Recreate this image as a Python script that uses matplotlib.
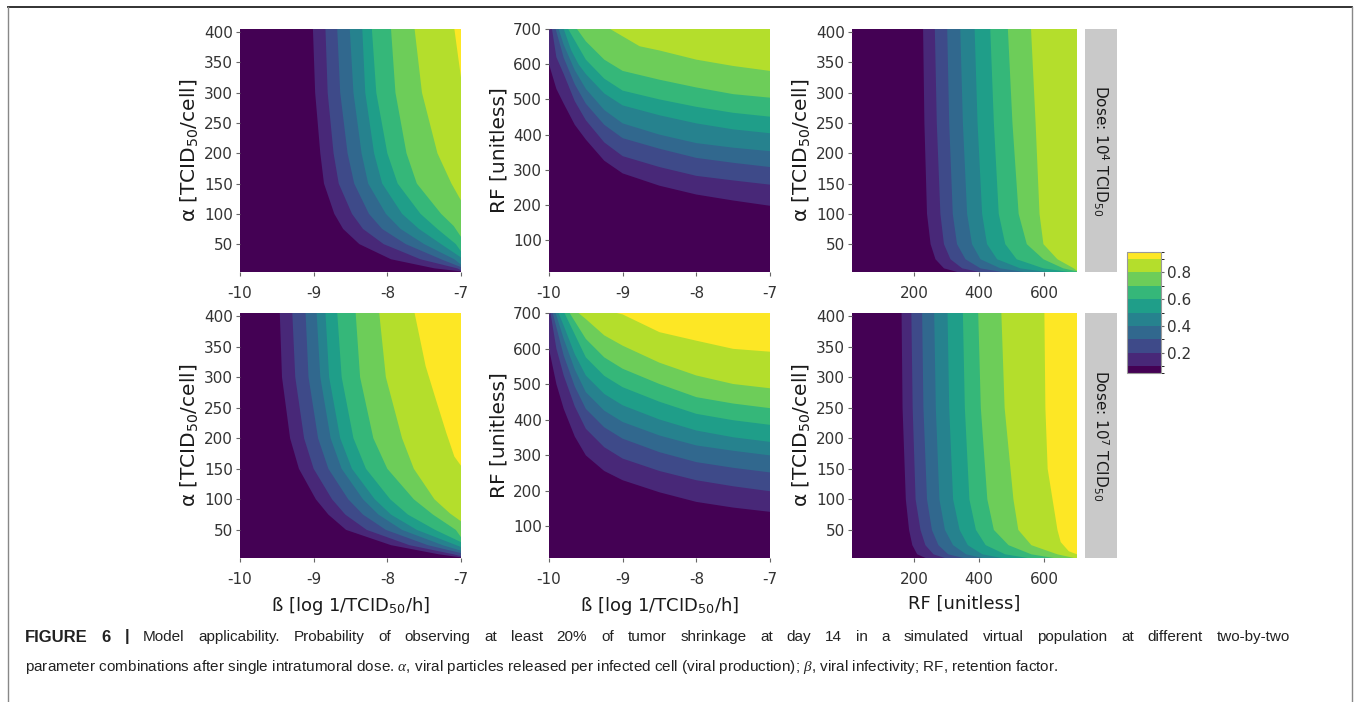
import numpy as np
import matplotlib
matplotlib.use("Agg")
import matplotlib.pyplot as plt
from matplotlib.colors import ListedColormap, BoundaryNorm
from matplotlib.cm import ScalarMappable
from matplotlib.patches import Rectangle
from matplotlib.lines import Line2D

plt.rcParams['font.family'] = ['DejaVu Sans']
plt.rcParams['axes.unicode_minus'] = False
plt.rcParams['mathtext.fontset'] = 'custom'
plt.rcParams['mathtext.rm'] = 'DejaVu Sans'
plt.rcParams['mathtext.bf'] = 'Liberation Sans:bold'
plt.rcParams['mathtext.it'] = 'Liberation Serif:italic'

# ── Data ───────────────────────────────────────────────────────────────────────
# probability bins of ">= 20% shrinkage" (0-0.1, 0.1-0.2, ... 0.9-1.0)
COLORS = ['#440154', '#482878', '#3E4A89', '#31688E', '#26828E',
          '#1F9E89', '#35B779', '#6DCD59', '#B4DE2C', '#FDE725']
CB_BOUNDS = [0.05, 0.1, 0.2, 0.3, 0.4, 0.5, 0.6, 0.7, 0.8, 0.9, 0.95]
CB_TICKS = [0.2, 0.4, 0.6, 0.8]

# Contour lines, one per level 0.1 .. 0.9.
# beta/alpha panels: (alpha values, beta where P crosses the level)
TL = [
    ([405, 300, 200, 150, 100, 75, 50, 25, 10, 5], [-9.01, -8.98, -8.91, -8.86, -8.72, -8.60, -8.38, -7.95, -7.36, -7.0]),
    ([405, 300, 200, 150, 100, 75, 50, 25, 10, 7], [-8.84, -8.81, -8.73, -8.66, -8.48, -8.33, -8.05, -7.55, -7.05, -7.0]),
    ([405, 300, 200, 150, 100, 75, 50, 25, 12], [-8.68, -8.64, -8.54, -8.45, -8.25, -8.07, -7.75, -7.27, -7.0]),
    ([405, 300, 200, 150, 100, 75, 50, 25, 16], [-8.51, -8.46, -8.35, -8.26, -8.02, -7.82, -7.50, -7.09, -7.0]),
    ([405, 300, 200, 150, 100, 75, 50, 28], [-8.34, -8.30, -8.18, -8.07, -7.80, -7.57, -7.27, -7.0]),
    ([405, 300, 200, 150, 100, 75, 50, 38], [-8.21, -8.15, -8.00, -7.86, -7.55, -7.32, -7.07, -7.0]),
    ([405, 300, 200, 150, 100, 80, 62], [-7.95, -7.89, -7.74, -7.60, -7.27, -7.10, -7.0]),
    ([405, 300, 200, 150, 122], [-7.63, -7.53, -7.32, -7.13, -7.0]),
    ([405, 360, 325], [-7.09, -7.04, -7.0]),
]
BL = [
    ([405, 300, 200, 150, 100, 75, 50, 25, 10, 5], [-9.46, -9.43, -9.32, -9.20, -8.97, -8.80, -8.56, -7.95, -7.30, -7.0]),
    ([405, 300, 200, 150, 100, 75, 50, 25, 10, 7], [-9.29, -9.25, -9.13, -9.00, -8.75, -8.57, -8.28, -7.70, -7.10, -7.0]),
    ([405, 300, 200, 150, 100, 75, 50, 25, 12], [-9.11, -9.07, -8.94, -8.80, -8.53, -8.33, -8.02, -7.45, -7.0]),
    ([405, 300, 200, 150, 100, 75, 50, 25, 16], [-8.96, -8.91, -8.77, -8.62, -8.33, -8.12, -7.80, -7.25, -7.0]),
    ([405, 300, 200, 150, 100, 75, 50, 22], [-8.84, -8.79, -8.64, -8.48, -8.17, -7.95, -7.60, -7.0]),
    ([405, 300, 200, 150, 100, 75, 50, 30], [-8.68, -8.62, -8.46, -8.29, -7.96, -7.72, -7.35, -7.0]),
    ([405, 300, 200, 150, 100, 75, 50, 38], [-8.43, -8.37, -8.19, -8.00, -7.64, -7.38, -7.07, -7.0]),
    ([405, 300, 200, 150, 100, 77, 64], [-8.11, -8.02, -7.80, -7.64, -7.36, -7.15, -7.0]),
    ([405, 318, 263, 209, 170, 155], [-7.63, -7.48, -7.34, -7.20, -7.09, -7.0]),
]
# beta/RF panels: (beta values, RF where P crosses the level)
TM = [
    ([-10, -9.9, -9.8, -9.65, -9.5, -9.25, -9.0, -8.5, -8.0, -7.5, -7.0], [600, 530, 488, 428, 386, 326, 290, 255, 230, 213, 198]),
    ([-9.96, -9.9, -9.8, -9.65, -9.5, -9.25, -9.0, -8.5, -8.0, -7.5, -7.0], [700, 620, 572, 495, 441, 378, 339, 308, 283, 270, 258]),
    ([-9.91, -9.8, -9.65, -9.5, -9.25, -9.0, -8.5, -8.0, -7.5, -7.0], [700, 618, 543, 488, 428, 390, 360, 334, 320, 308]),
    ([-9.87, -9.8, -9.65, -9.5, -9.25, -9.0, -8.5, -8.0, -7.5, -7.0], [700, 655, 583, 530, 470, 432, 400, 376, 363, 353]),
    ([-9.80, -9.7, -9.6, -9.5, -9.25, -9.0, -8.5, -8.0, -7.5, -7.0], [700, 640, 600, 572, 517, 483, 455, 432, 415, 404]),
    ([-9.74, -9.5, -9.25, -9.0, -8.5, -8.0, -7.5, -7.0], [700, 613, 559, 525, 500, 479, 462, 451]),
    ([-9.62, -9.5, -9.25, -9.0, -8.5, -8.0, -7.5, -7.0], [700, 665, 613, 581, 556, 534, 515, 505]),
    ([-9.17, -8.77, -8.5, -8.0, -7.5, -7.0], [700, 651, 639, 613, 595, 581]),
]
BM = [
    ([-10, -9.9, -9.8, -9.65, -9.5, -9.25, -9.0, -8.5, -8.0, -7.5, -7.0], [599, 500, 430, 352, 299, 255, 229, 195, 168, 152, 140]),
    ([-9.98, -9.9, -9.8, -9.65, -9.5, -9.25, -9.0, -8.5, -8.0, -7.5, -7.0], [700, 600, 524, 437, 374, 322, 290, 255, 229, 212, 198]),
    ([-9.95, -9.8, -9.65, -9.5, -9.25, -9.0, -8.5, -8.0, -7.5, -7.0], [700, 580, 493, 430, 378, 346, 308, 280, 264, 251]),
    ([-9.91, -9.8, -9.65, -9.5, -9.25, -9.0, -8.5, -8.0, -7.5, -7.0], [700, 627, 541, 477, 425, 393, 355, 327, 312, 299]),
    ([-9.87, -9.8, -9.65, -9.5, -9.25, -9.0, -8.5, -8.0, -7.5, -7.0], [700, 664, 584, 524, 472, 440, 400, 369, 350, 337]),
    ([-9.79, -9.5, -9.25, -9.0, -8.5, -8.0, -7.5, -7.0], [700, 575, 523, 491, 450, 416, 398, 385]),
    ([-9.72, -9.5, -9.25, -9.0, -8.5, -8.0, -7.5, -7.0], [700, 627, 575, 543, 500, 463, 445, 432]),
    ([-9.60, -9.5, -9.25, -9.0, -8.5, -8.0, -7.5, -7.0], [700, 683, 637, 608, 560, 524, 500, 488]),
    ([-9.08, -9.0, -8.5, -8.0, -7.5, -7.0], [700, 696, 646, 622, 599, 591]),
]
# RF/alpha panels: (alpha values, RF where P crosses the level)
TR = [
    ([405, 250, 100, 50, 25, 10, 3], [228, 232, 240, 251, 266, 292, 340]),
    ([405, 250, 100, 50, 25, 10, 3], [264, 270, 281, 292, 312, 348, 410]),
    ([405, 250, 100, 50, 25, 10, 3], [302, 308, 319, 332, 358, 404, 480]),
    ([405, 250, 100, 50, 25, 10, 3], [342, 350, 363, 378, 404, 465, 550]),
    ([405, 250, 100, 50, 25, 10, 3], [386, 395, 409, 424, 455, 526, 620]),
    ([405, 250, 100, 50, 25, 10, 3], [434, 445, 460, 480, 515, 597, 690]),
    ([405, 250, 100, 50, 25, 10, 5], [488, 502, 521, 546, 597, 658, 700]),
    ([405, 250, 100, 50, 25, 10, 6], [559, 573, 585, 597, 640, 690, 700]),
]
BR = [
    ([405, 250, 100, 50, 25, 10, 3], [162, 165, 175, 185, 195, 210, 240]),
    ([405, 250, 100, 50, 25, 10, 3], [192, 196, 205, 220, 235, 260, 300]),
    ([405, 250, 100, 50, 25, 10, 3], [225, 229, 240, 255, 275, 305, 360]),
    ([405, 250, 100, 50, 25, 10, 3], [262, 267, 278, 295, 320, 360, 420]),
    ([405, 250, 100, 50, 25, 10, 3], [303, 308, 320, 340, 365, 410, 480]),
    ([405, 250, 100, 50, 25, 10, 3], [350, 356, 370, 390, 420, 480, 560]),
    ([405, 250, 100, 50, 25, 10, 3], [397, 405, 425, 445, 490, 560, 640]),
    ([405, 250, 100, 50, 25, 10, 3], [468, 478, 505, 520, 560, 640, 700]),
    ([405, 250, 150, 100, 50, 30, 15, 10], [600, 603, 610, 625, 640, 650, 675, 700]),
]

BETA_LIM, ALPHA_LIM, RF_LIM = (-10, -7), (4, 405), (10, 700)
BETA_TICKS = [-10, -9, -8, -7]
ALPHA_TICKS = [50, 100, 150, 200, 250, 300, 350, 400]
RF_Y_TICKS = [100, 200, 300, 400, 500, 600, 700]
RF_X_TICKS = [200, 400, 600]

ALPHA_LABEL = 'α [TCID$_{50}$/cell]'
BETA_LABEL = 'ß [log 1/TCID$_{50}$/h]'
RF_LABEL = 'RF [unitless]'
STRIPS = ['Dose: 10$^{4}$ TCID$_{50}$', 'Dose: 10$^{7}$ TCID$_{50}$']

CAPTION_BOLD = 'FIGURE 6 |'
CAPTION_1 = ('Model applicability. Probability of observing at least 20% of tumor '
             'shrinkage at day 14 in a simulated virtual population at different two-by-two')
CAPTION_2 = ('parameter combinations after single intratumoral dose. $\\alpha$, viral particles released per '
             'infected cell (viral production); $\\beta$, viral infectivity; RF, retention factor.')

TXT = '#333333'


# ── Drawing ────────────────────────────────────────────────────────────────────

def draw_bands(ax, bounds, kind, xlim, ylim):
    """Stack each level's region on top of the previous one."""
    ax.set_facecolor(COLORS[0])
    x_hi = xlim[1] + (xlim[1] - xlim[0])
    y_hi = ylim[1] + (ylim[1] - ylim[0])
    for k, (u, v) in enumerate(bounds, start=1):
        if kind == 'right':     # u = y (top -> bottom), v = x; fill to the right
            xs = [v[0]] + list(v) + [x_hi, x_hi]
            ys = [y_hi] + list(u) + [u[-1], y_hi]
        else:                   # u = x (left -> right), v = y; fill above
            xs = [u[0]] + list(u) + [x_hi, x_hi]
            ys = [y_hi] + list(v) + [v[-1], y_hi]
        ax.fill(xs, ys, color=COLORS[k], lw=0)
    ax.set_xlim(xlim)
    ax.set_ylim(ylim)
    for s in ax.spines.values():
        s.set_visible(False)
    ax.tick_params(length=3, width=0.8, color='#666666', labelsize=11,
                   labelcolor=TXT)
    ax.tick_params(axis='x', pad=7)
    ax.tick_params(axis='y', pad=2)


fig = plt.figure(figsize=(13.56, 7.02), dpi=100)
W, H = 1356, 702


def px_axes(x0, y0, x1, y1):
    return fig.add_axes([x0 / W, 1 - y1 / H, (x1 - x0) / W, (y1 - y0) / H])


cols = [(240, 461), (549, 770), (852, 1077)]
rows = [(29, 272), (313, 558)]

panels = [
    [(TL, 'right', BETA_LIM, ALPHA_LIM, BETA_TICKS, ALPHA_TICKS, ALPHA_LABEL),
     (TM, 'up', BETA_LIM, RF_LIM, BETA_TICKS, RF_Y_TICKS, RF_LABEL),
     (TR, 'right', RF_LIM, ALPHA_LIM, RF_X_TICKS, ALPHA_TICKS, ALPHA_LABEL)],
    [(BL, 'right', BETA_LIM, ALPHA_LIM, BETA_TICKS, ALPHA_TICKS, ALPHA_LABEL),
     (BM, 'up', BETA_LIM, RF_LIM, BETA_TICKS, RF_Y_TICKS, RF_LABEL),
     (BR, 'right', RF_LIM, ALPHA_LIM, RF_X_TICKS, ALPHA_TICKS, ALPHA_LABEL)],
]
xlabels = [BETA_LABEL, BETA_LABEL, RF_LABEL]

for r, (y0, y1) in enumerate(rows):
    for c, (x0, x1) in enumerate(cols):
        bounds, kind, xl, yl, xt, yt, ylab = panels[r][c]
        ax = px_axes(x0, y0, x1, y1)
        draw_bands(ax, bounds, kind, xl, yl)
        ax.set_xticks(xt)
        ax.set_yticks(yt)
        ax.set_ylabel(ylab, fontsize=14.5, color='#1a1a1a', labelpad=3)
        if r == 1:
            ax.set_xlabel(xlabels[c], fontsize=13, color='#1a1a1a', labelpad=6)

    # facet strip on the right
    fig.add_artist(Rectangle((1085 / W, 1 - y1 / H), 32 / W, (y1 - y0) / H,
                             transform=fig.transFigure, color='#c9c9c9', lw=0))
    fig.text(1101 / W, 1 - (y0 + y1) / 2 / H, STRIPS[r], rotation=270,
             ha='center', va='center', fontsize=11, color='#1a1a1a')

# colour key
cax = px_axes(1127, 252, 1161, 373)
cmap = ListedColormap(COLORS)
norm = BoundaryNorm(CB_BOUNDS, cmap.N)
cb = fig.colorbar(ScalarMappable(norm=norm, cmap=cmap), cax=cax,
                  ticks=CB_TICKS, spacing='proportional')
cb.outline.set_edgecolor('#999999')
cb.outline.set_linewidth(0.8)
cb.ax.tick_params(length=2, width=0.8, color='#666666', labelsize=11,
                  labelcolor=TXT, pad=2)

# caption: first line justified between the margins, second line ragged
cap_kw = dict(color='#222222', va='center', family='Liberation Sans')
renderer = fig.canvas.get_renderer()
words = [(w, 'bold', 12) for w in CAPTION_BOLD.split()] + \
        [(w, 'normal', 11) for w in CAPTION_1.split()]
texts = [fig.text(0, 1 - 637 / H, w, fontweight=wt, fontsize=fs, **cap_kw)
         for w, wt, fs in words]
widths = [t.get_window_extent(renderer).width for t in texts]
x_left, x_right = 25, 1290
gap = (x_right - x_left - sum(widths)) / (len(texts) - 1)
x = x_left
for t, w in zip(texts, widths):
    t.set_x(x / W)
    x += w + gap
fig.text(x_left / W, 1 - 667 / H, CAPTION_2, fontsize=11, **cap_kw)

# page frame
fig.add_artist(Line2D([8 / W, 1352 / W], [1 - 7 / H, 1 - 7 / H], color='#222222', lw=1.3))
fig.add_artist(Line2D([8 / W, 8 / W], [0, 1 - 7 / H], color='#888888', lw=1))
fig.add_artist(Line2D([1352 / W, 1352 / W], [0, 1 - 7 / H], color='#888888', lw=1))

fig.savefig('out.png', dpi=100)
